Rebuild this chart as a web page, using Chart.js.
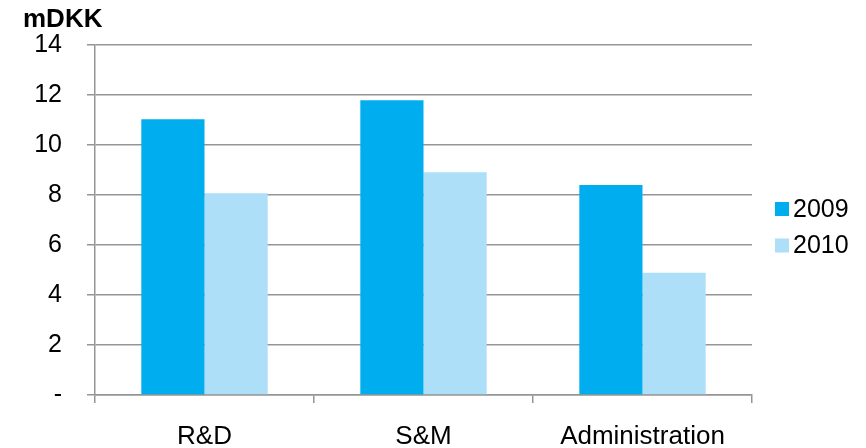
<!DOCTYPE html>
<html>
<head>
<meta charset="utf-8">
<script src="https://cdn.jsdelivr.net/npm/chart.js@4"></script>
<style>
  html, body { margin: 0; padding: 0; background: #fff; }
  #wrap { width: 866px; height: 448px; }
</style>
</head>
<body>
<div id="wrap"><canvas id="costChart" width="866" height="448"></canvas></div>
<script>
var categories = ['R&D', 'S&M', 'Administration'];
var seriesNames = ['2009', '2010'];
var values2009 = [11.04, 11.8, 8.4];
var values2010 = [8.07, 8.92, 4.89];
var yTicks = [0, 2, 4, 6, 8, 10, 12, 14];

var FONT = 'Arial, "Liberation Sans", sans-serif';
var GRID = '#959595';

// legend drawn by hand so the box/text spacing matches the original
var sideLegend = {
    id: 'sideLegend',
    afterDraw: function (chart) {
        var c = chart.ctx;
        c.save();
        c.font = '25px ' + FONT;
        c.textBaseline = 'middle';
        c.textAlign = 'left';
        chart.data.datasets.forEach(function (ds, i) {
            var y = 202 + i * 36.5;
            c.fillStyle = ds.backgroundColor;
            c.fillRect(775, y, 14, 14);
            c.fillStyle = '#000';
            c.fillText(ds.label, 793, y + 8);
        });
        c.restore();
    }
};

var ctx = document.getElementById('costChart').getContext('2d');
var chart = new Chart(ctx, {
    type: 'bar',
    data: {
        labels: categories,
        datasets: [{
            label: seriesNames[0],
            backgroundColor: '#00AEEF',
            data: values2009
        }, {
            label: seriesNames[1],
            backgroundColor: '#ADDFF9',
            data: values2010
        }]
    },
    options: {
        responsive: false,
        animation: false,
        layout: { padding: { left: 23, right: 114, top: 0, bottom: 0 } },
        datasets: { bar: { categoryPercentage: 0.577, barPercentage: 1.0 } },
        plugins: {
            legend: { display: false },
            tooltip: { enabled: false },
            title: {
                display: true,
                text: 'mDKK',
                align: 'start',
                color: '#000',
                font: { family: FONT, size: 26, weight: 'bold' },
                padding: { top: 4, bottom: 10 }
            }
        },
        scales: {
            x: {
                grid: { drawOnChartArea: false, drawTicks: true, tickLength: 8, color: GRID, lineWidth: 1.5 },
                border: { color: GRID, width: 1.5 },
                ticks: { color: '#000', font: { family: FONT, size: 26 }, padding: 18 },
                afterFit: function (scale) { scale.height = 53; }
            },
            y: {
                min: 0,
                max: 14,
                afterBuildTicks: function (scale) {
                    scale.ticks = yTicks.map(function (v) { return { value: v }; });
                },
                grid: { color: GRID, lineWidth: 1.5, tickLength: 8 },
                border: { color: GRID, width: 1.5 },
                ticks: {
                    color: '#000',
                    padding: 25,
                    font: { family: FONT, size: 25 },
                    callback: function (v) { return v === 0 ? '-' : v; }
                },
                afterFit: function (scale) { scale.width = 72; }
            }
        }
    },
    plugins: [sideLegend]
});
</script>
</body>
</html>
